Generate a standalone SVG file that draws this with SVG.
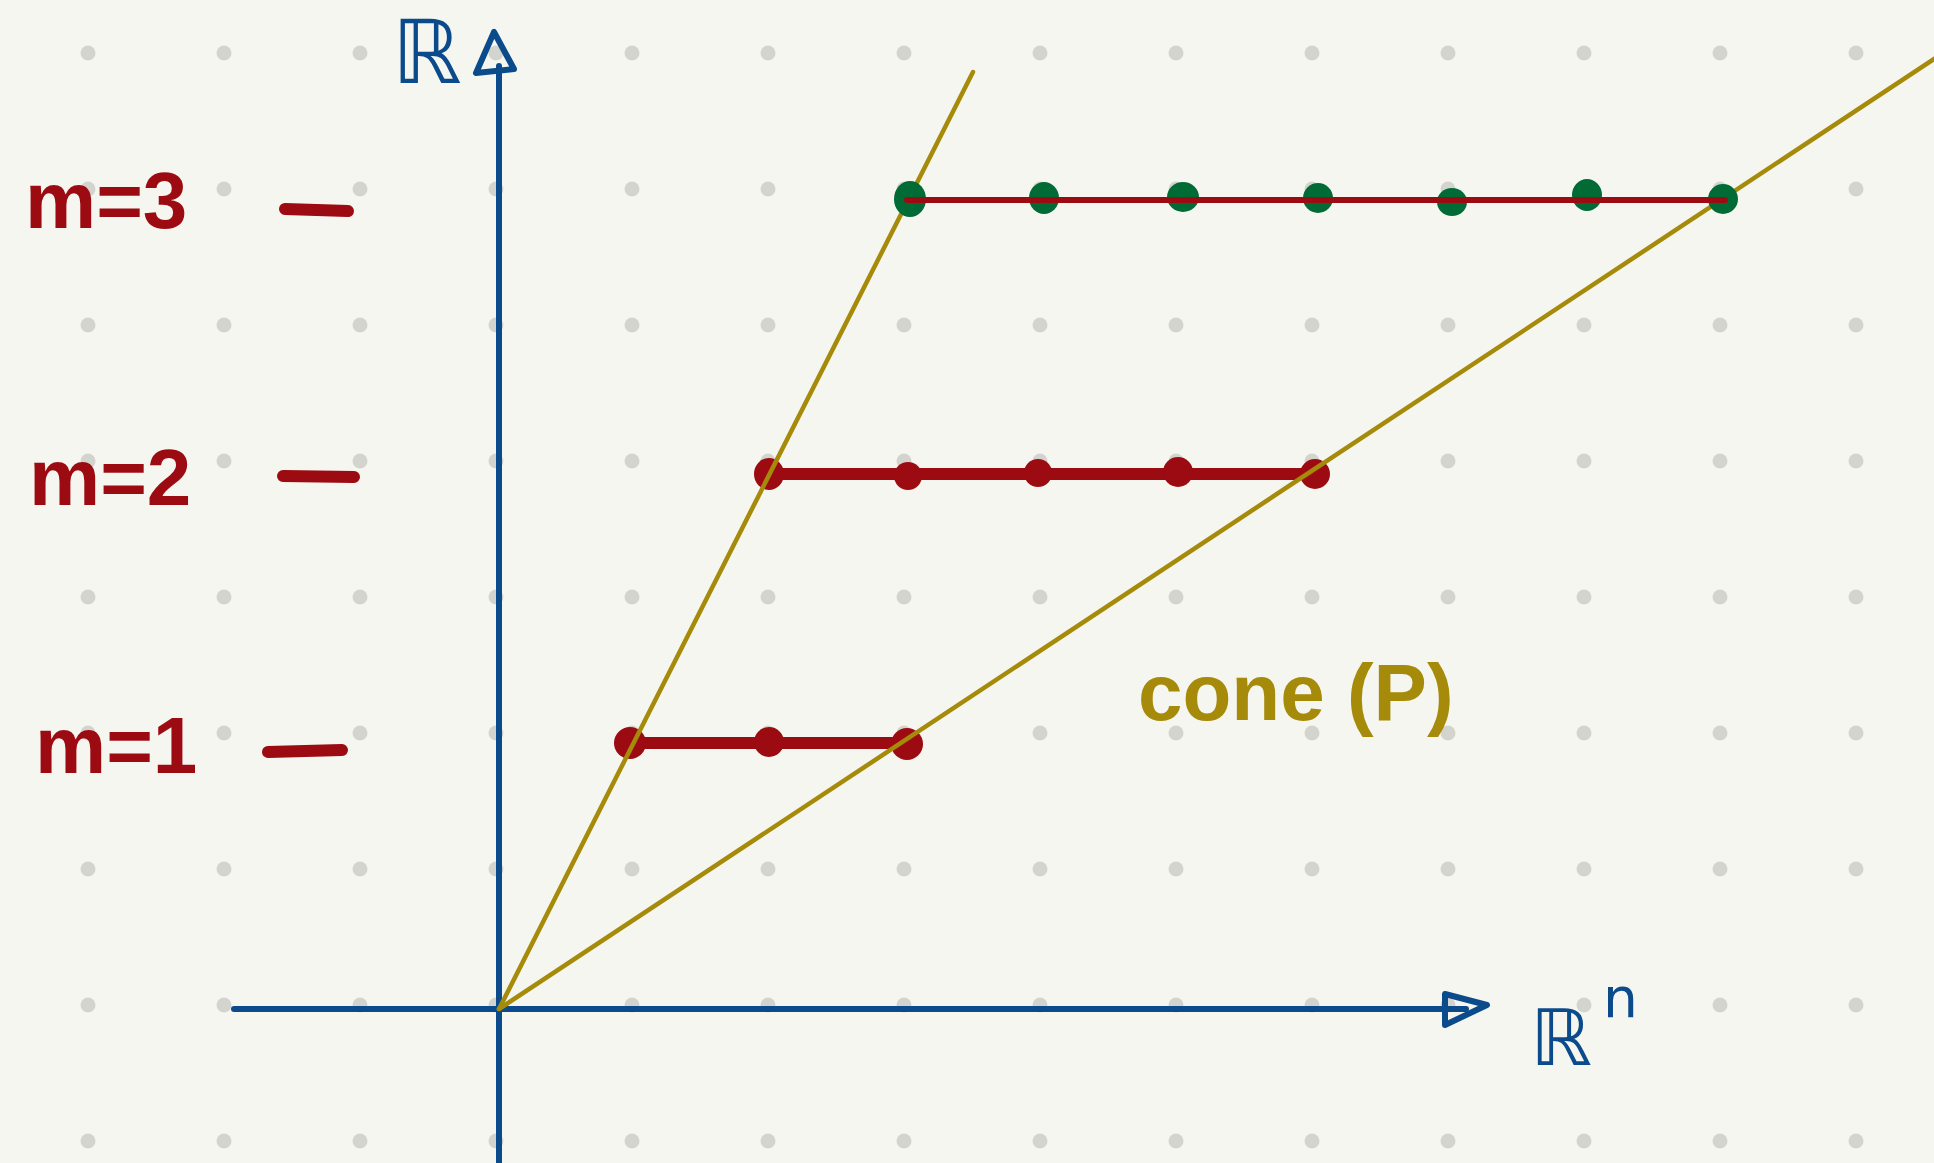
<svg xmlns="http://www.w3.org/2000/svg" width="1934" height="1163" viewBox="0 0 1934 1163">
  <style>
    .axis { stroke: #0b4b8c; stroke-width: 6; fill: none; stroke-linecap: round; stroke-linejoin: round; }
    .cone { stroke: #a68a0a; stroke-width: 4.5; fill: none; stroke-linecap: round; }
    .red { stroke: #9c0b11; stroke-linecap: round; fill: none; }
    .rdot { fill: #9c0b11; }
    .gdot { fill: #016b36; }
    .mlabel { font-family: "Liberation Sans", Arial, sans-serif; font-weight: bold; font-size: 80px; fill: #9c0b11; }
    .blue { font-family: "DejaVu Sans", sans-serif; fill: #0b4b8c; }
    .olive { font-family: "Liberation Sans", Arial, sans-serif; font-weight: bold; font-size: 80px; fill: #a68a0a; }
  </style>
  <defs>
    <pattern id="grid" x="20" y="-15" width="136" height="136" patternUnits="userSpaceOnUse">
      <circle cx="68" cy="68" r="7.5" fill="#d4d4cf"/>
    </pattern>
  </defs>
  <rect width="1934" height="1163" fill="#f6f6f1"/>
  <rect width="1934" height="1163" fill="url(#grid)"/>

  <g id="axes">
    <line class="axis" x1="499" y1="1163" x2="499" y2="66"/>
    <polygon class="axis" points="494,32 476,73 514,69"/>
    <line class="axis" x1="234" y1="1009" x2="1466" y2="1009"/>
    <polygon class="axis" points="1487,1005 1445,994 1445,1025"/>
    <text id="label-R" class="blue" x="392" y="83" font-size="88">ℝ</text>
    <text id="label-Rn" class="blue" x="1530" y="1065" font-size="78">ℝ</text>
    <text class="blue" x="1603" y="1017" font-size="55">n</text>
  </g>

  <g id="level-labels">
    <g id="label-m3">
      <text class="mlabel" x="25" y="228">m=3</text>
      <line class="red" stroke-width="12" x1="285" y1="209" x2="348" y2="211"/>
    </g>
    <g id="label-m2">
      <text class="mlabel" x="29" y="505">m=2</text>
      <line class="red" stroke-width="12" x1="283" y1="476" x2="354" y2="477"/>
    </g>
    <g id="label-m1">
      <text class="mlabel" x="35" y="773">m=1</text>
      <line class="red" stroke-width="12" x1="268" y1="752" x2="342" y2="750"/>
    </g>
  </g>

  <g id="row-m1">
    <line class="red" stroke-width="12" x1="630" y1="743" x2="907" y2="743"/>
    <circle class="rdot" cx="630" cy="743" r="16"/>
    <circle class="rdot" cx="769" cy="742" r="15"/>
    <circle class="rdot" cx="907" cy="744" r="16"/>
  </g>

  <g id="row-m2">
    <line class="red" stroke-width="12" x1="769" y1="474" x2="1315" y2="474"/>
    <ellipse class="rdot" cx="769" cy="474" rx="15" ry="16"/>
    <circle class="rdot" cx="908" cy="476" r="14"/>
    <circle class="rdot" cx="1038" cy="473" r="14"/>
    <circle class="rdot" cx="1178" cy="472" r="15"/>
    <circle class="rdot" cx="1315" cy="474" r="15"/>
  </g>

  <g id="cone-lines">
    <line class="cone" x1="499" y1="1009" x2="973" y2="72"/>
    <line class="cone" x1="499" y1="1009" x2="1940" y2="55"/>
  </g>

  <g id="row-m3">
    <ellipse class="gdot" cx="910" cy="199" rx="16" ry="18"/>
    <ellipse class="gdot" cx="1044" cy="198" rx="15" ry="16"/>
    <ellipse class="gdot" cx="1183" cy="197" rx="16" ry="15"/>
    <ellipse class="gdot" cx="1318" cy="198" rx="15" ry="15"/>
    <ellipse class="gdot" cx="1452" cy="202" rx="15" ry="14"/>
    <ellipse class="gdot" cx="1587" cy="195" rx="15" ry="16"/>
    <ellipse class="gdot" cx="1723" cy="199" rx="15" ry="15"/>
    <line class="red" stroke-width="6" x1="907" y1="200" x2="1725" y2="200"/>
  </g>

  <g id="cone-label">
    <text class="olive" x="1138" y="720">cone (P)</text>
  </g>
</svg>
